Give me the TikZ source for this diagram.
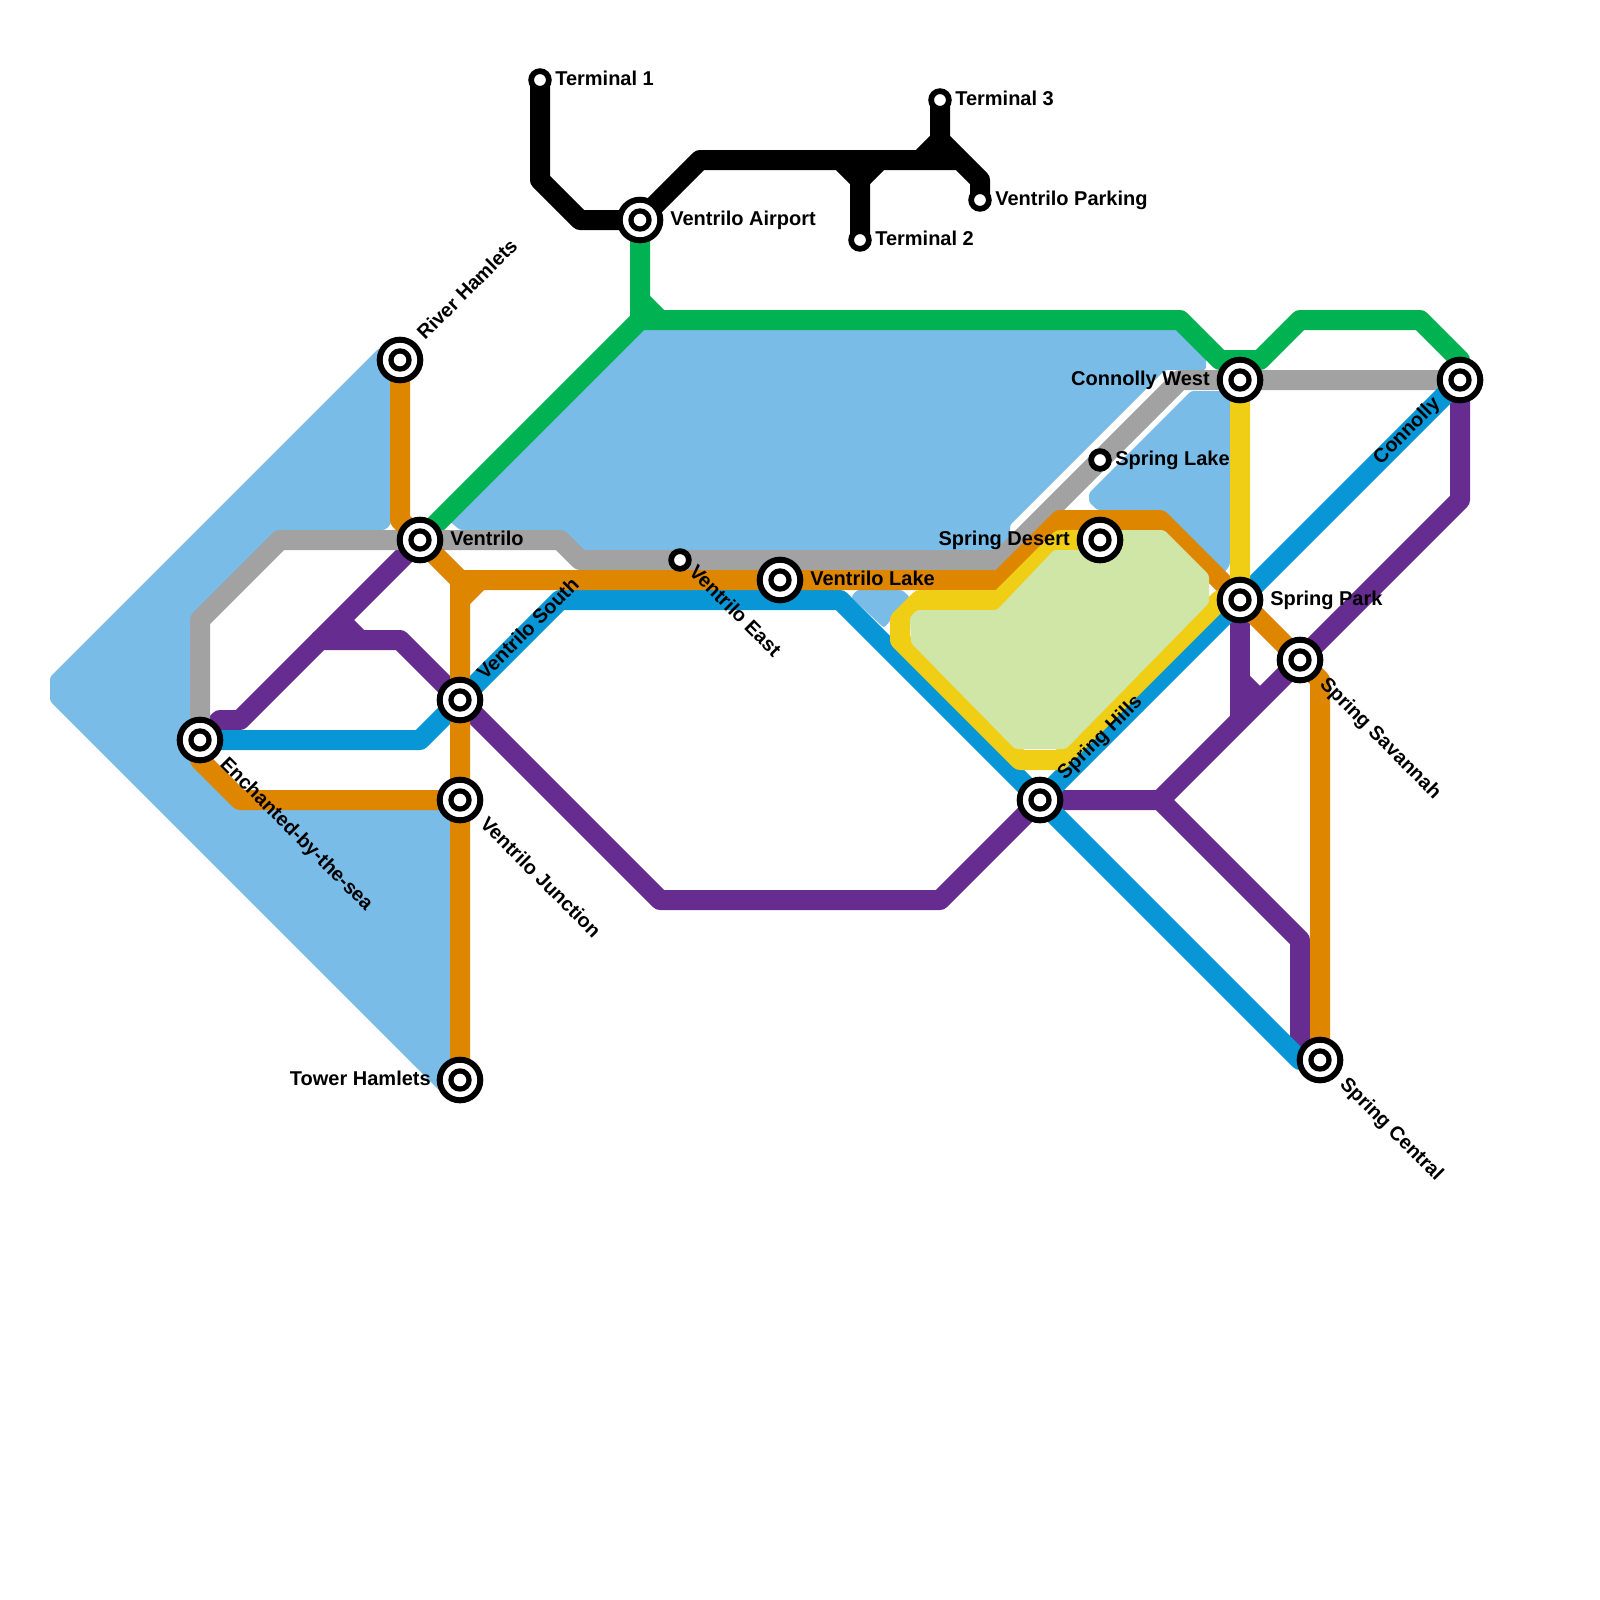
\documentclass[tikz,border=0pt]{standalone}
\usepackage{fontspec}
\setmainfont{Liberation Sans}[BoldFont={Liberation Sans Bold}]
\pgfdeclarelayer{under}
\pgfsetlayers{under,main}
\definecolor{water}{RGB}{122,188,232}
\definecolor{parkgreen}{RGB}{207,230,166}
\definecolor{mgreen}{RGB}{0,178,81}
\definecolor{morange}{RGB}{223,134,0}
\definecolor{mgray}{RGB}{162,162,162}
\definecolor{mblue}{RGB}{8,150,215}
\definecolor{mpurple}{RGB}{102,44,144}
\definecolor{myellow}{RGB}{240,206,21}
\tikzset{
  metro/.style={line width=15pt,line join=round,line cap=butt},
  bigst/.style={circle,draw=black,fill=white,line width=4.5pt,minimum size=30.45pt,inner sep=0pt,
    path picture={\fill[black] (path picture bounding box.center) circle[radius=8.8pt];
                  \fill[white] (path picture bounding box.center) circle[radius=4.7pt];}},
  smallst/.style={circle,draw=black,fill=white,line width=4.3pt,minimum size=13.3pt,inner sep=0pt},
  lab/.style={font=\fontsize{15}{16}\selectfont\bfseries,inner sep=0pt,text=black},
  rlab/.style={lab,anchor=base west},
  llab/.style={lab,anchor=base east},
  dlab/.style={lab,font=\fontsize{14.85}{16}\selectfont\bfseries,anchor=base west,rotate=-45},
  ulab/.style={lab,font=\fontsize{14.85}{16}\selectfont\bfseries,anchor=base west,rotate=45},
  uelab/.style={lab,font=\fontsize{14.85}{16}\selectfont\bfseries,anchor=base east,rotate=45},
  waterbit/.style={fill=water,draw=none,rounded corners=2pt},
}
\begin{document}
\begin{tikzpicture}[x=0.75pt,y=-0.75pt]
\useasboundingbox (0,0) rectangle (1600,1600);
% stations
\node[smallst] (t1) at (540,80) {};
\node[smallst] (t3) at (940,100) {};
\node[smallst] (t2) at (860,240) {};
\node[smallst] (vpark) at (980,200) {};
\node[bigst] (vair) at (640,220) {};
\node[bigst] (river) at (400,360) {};
\node[bigst] (ven) at (420,540) {};
\node[bigst] (vsouth) at (460,700) {};
\node[bigst] (vjunc) at (460,800) {};
\node[bigst] (tower) at (460,1080) {};
\node[bigst] (ench) at (200,740) {};
\node[smallst] (veast) at (680,560) {};
\node[bigst] (vlake) at (780,580) {};
\node[bigst] (sdes) at (1100,540) {};
\node[smallst] (slake) at (1100,460) {};
\node[bigst] (cwest) at (1240,380) {};
\node[bigst] (conn) at (1460,380) {};
\node[bigst] (spark) at (1240,600) {};
\node[bigst] (ssav) at (1300,660) {};
\node[bigst] (shills) at (1040,800) {};
\node[bigst] (scen) at (1320,1060) {};
% labels
\node[rlab] (lt1) at (555,85) {Terminal 1};
\node[rlab] (lt3) at (955,105) {Terminal 3};
\node[rlab] (lt2) at (875,245) {Terminal 2};
\node[rlab] (lpk) at (995,205) {Ventrilo Parking};
\node[rlab] (lair) at (670,225) {Ventrilo Airport};
\node[rlab] (lven) at (450,545) {Ventrilo};
\node[rlab] (llake) at (810,585) {Ventrilo Lake};
\node[rlab] (lslake) at (1115,465) {Spring Lake};
\node[rlab] (lspark) at (1270,605) {Spring Park};
\node[llab] (lcw) at (1210,385) {Connolly West};
\node[llab] (lsd) at (1070,545) {Spring Desert};
\node[llab] (ltow) at (431,1085) {Tower Hamlets};
\node[ulab] (lriv) at (425,341) {River Hamlets};
\node[ulab] (lvs) at (485,681) {Ventrilo South};
\node[ulab] (lsh) at (1065,781) {Spring Hills};
\node[uelab] (lconn) at (1441,405) {Connolly};
\node[dlab] (lench) at (219,765) {Enchanted-by-the-sea};
\node[dlab] (lvj) at (479,825) {Ventrilo Junction};
\node[dlab] (lve) at (688,573) {Ventrilo East};
\node[dlab] (lsav) at (1319,685) {Spring Savannah};
\node[dlab] (lcen) at (1339,1085) {Spring Central};
\begin{pgfonlayer}{under}
% water
\path[waterbit] (379,348) -- (50,677) -- (50,701) -- (440,1091) -- (455,1091) -- (460,800) -- (240,800) -- (200,760) -- (200,620) -- (280,540) -- (380,540) -- (380,530) -- (385,530) -- (391,524) -- (391,355) -- cycle;
\path[waterbit] (640,320) -- (1180,320) -- (1206,346) -- (1206,370) -- (1165,370) -- (1010,525) -- (1010,560) -- (580,560) -- (560,540) -- (470,540) -- (465,530) -- (460,530) -- (448,520) -- cycle;
\path[waterbit] (1089,493) -- (1191,391) -- (1230,391) -- (1230,565) -- (1224,573) -- (1160,510) -- (1097,510) -- (1089,502) -- cycle;
\path[waterbit] (851,597) -- (857,590) -- (902,590) -- (910,597) -- (884,628) -- cycle;
% purple
\draw[metro,mpurple] (ench.center) -- (220,720) -- (240,720) -- (ven.center);
\draw[metro,mpurple] (340,620) -- (360,640) -- (320,640) -- (360,640) -- (400,640) -- (vsouth.center) -- (660,900) -- (940,900) -- (shills.center) -- (1160,800) -- (1240,720) -- (ssav.center) -- (1460,500) -- (conn.center);
\draw[metro,mpurple] (1160,800) -- (1300,940) -- (1300,1040) -- (scen.center);
\draw[metro,mpurple] (spark.center) -- (1240,720);
\draw[metro,mpurple] (1240,680) -- (1260,700);
% black
\draw[metro,black] (t1.center) -- (540,180) -- (580,220) -- (vair.center) -- (700,160) -- (960,160);
\draw[metro,black] (t2.center) -- (860,180) -- (840,160);
\draw[metro,black] (860,180) -- (880,160);
\draw[metro,black] (t3.center) -- (940,140) -- (980,180) -- (vpark.center);
\draw[metro,black] (940,140) -- (920,160);
% green
\draw[metro,mgreen] (vair.center) -- (640,320) -- (ven.center);
\draw[metro,mgreen] (640,300) -- (660,320);
\draw[metro,mgreen] (640,320) -- (1180,320) -- (1220,360) -- (1260,360) -- (1300,320) -- (1420,320) -- (1460,360) -- (conn.center);
% gray
\draw[metro,mgray] (ench.center) -- (200,620) -- (280,540) -- (560,540) -- (580,560) -- (1000,560) -- (1180,380) -- (cwest.center) -- (conn.center);
% blue
\draw[metro,mblue] (ench.center) -- (420,740) -- (vsouth.center) -- (560,600) -- (840,600) -- (shills.center) -- (1300,1060) -- (scen.center);
\draw[metro,mblue] (shills.center) -- (spark.center) -- (conn.center);
% orange
\draw[metro,morange] (river.center) -- (400,520) -- (ven.center) -- (460,580) -- (vlake.center) -- (1000,580) -- (1060,520) -- (1160,520) -- (spark.center) -- (ssav.center) -- (1320,680) -- (scen.center);
\draw[metro,morange] (tower.center) -- (vjunc.center) -- (vsouth.center) -- (460,600) -- (480,580);
\draw[metro,morange] (460,600) -- (460,580);
\draw[metro,morange] (ench.center) -- (200,760) -- (240,800) -- (vjunc.center);
% yellow
\draw[metro,myellow] (sdes.center) -- (1060,540) -- (1000,600) -- (920,600) -- (900,620) -- (900,640) -- (1020,760) -- (1060,760) -- (1220,600) -- (spark.center) -- (cwest.center);
% park
\path[fill=parkgreen,rounded corners=2pt] (917,610) -- (997,610) -- (1054,550) -- (1095,550) -- (1095,530) -- (1164,530) -- (1209,575) -- (1209,603) -- (1066,749) -- (1015,749) -- (911,643) -- (910,617) -- cycle;
\end{pgfonlayer}
\end{tikzpicture}
\end{document}
